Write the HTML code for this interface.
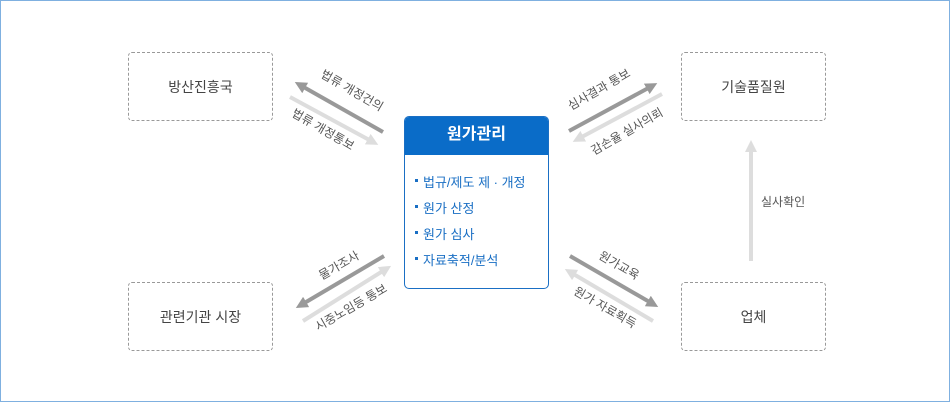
<!DOCTYPE html>
<html><head><meta charset="utf-8"><style>
body{margin:0;background:#fff}
.wrap{position:relative;width:950px;height:402px;box-sizing:border-box;border:1px solid #7fb0e0;font-family:"Liberation Sans","Noto Sans CJK KR",sans-serif;overflow:hidden}
.box{position:absolute;width:145px;height:69px;box-sizing:border-box;border:1px dashed #999;border-radius:4px;display:flex;align-items:center;justify-content:center;font-size:14px;color:#444}
.c{position:absolute;left:403px;top:115px;width:145px;height:173px;box-sizing:border-box;border:1px solid #1a6fc4;border-radius:5px;overflow:hidden}
.c .h{background:#0a6cc8;color:#fff;font-weight:bold;font-size:16px;height:38px;line-height:36px;text-align:center}
.c ul{list-style:none;margin:0;padding:20px 0 0 10px}
.c li{color:#1a6fc4;font-size:13px;height:26px;line-height:16px}
.c li:before{content:"";display:inline-block;width:3px;height:3px;background:#1a6fc4;margin-right:5px;vertical-align:middle;position:relative;top:-3px}
svg{position:absolute;left:0;top:0}
svg text{font-family:"Liberation Sans","Noto Sans CJK KR",sans-serif;font-size:12px;fill:#555}
</style></head><body><div class="wrap">
<div class="box" style="left:127px;top:51px">방산진흥국</div>
<div class="box" style="left:680px;top:51px">기술품질원</div>
<div class="box" style="left:127px;top:281px">관련기관 시장</div>
<div class="box" style="left:680px;top:281px">업체</div>
<div class="c"><div class="h">원가관리</div><ul><li>법규/제도 제 · 개정</li><li>원가 산정</li><li>원가 심사</li><li>자료축적/분석</li></ul></div>
<svg width="950" height="402">
<defs>
<marker id="d" markerWidth="3" markerHeight="3" refX="1.5" refY="1.5" orient="auto"><path d="M0,0L3,1.5L0,3z" fill="#999"/></marker>
<marker id="l" markerWidth="3" markerHeight="3" refX="1.5" refY="1.5" orient="auto"><path d="M0,0L3,1.5L0,3z" fill="#ddd"/></marker>
</defs>
<g stroke-width="4">
<line x1="382" y1="131" x2="299" y2="84" stroke="#999" marker-end="url(#d)"/>
<line x1="289" y1="96" x2="372" y2="141" stroke="#ddd" marker-end="url(#l)"/>
<line x1="568" y1="130" x2="651" y2="85" stroke="#999" marker-end="url(#d)"/>
<line x1="661" y1="93" x2="577" y2="138" stroke="#ddd" marker-end="url(#l)"/>
<line x1="383" y1="255" x2="300" y2="304" stroke="#999" marker-end="url(#d)"/>
<line x1="302" y1="320" x2="385" y2="268" stroke="#ddd" marker-end="url(#l)"/>
<line x1="569" y1="255" x2="652" y2="303" stroke="#999" marker-end="url(#d)"/>
<line x1="652" y1="320" x2="569" y2="271" stroke="#ddd" marker-end="url(#l)"/>
<line x1="750" y1="260" x2="750" y2="145" stroke="#ddd" marker-end="url(#l)"/>
</g>
<text transform="translate(349,93) rotate(30)" text-anchor="middle">법류 개정건의</text>
<text transform="translate(320,132) rotate(30)" text-anchor="middle">법류 개정통보</text>
<text transform="translate(600,92) rotate(-30)" text-anchor="middle">심사결과 통보</text>
<text transform="translate(628,134) rotate(-30)" text-anchor="middle">감손율 실사의뢰</text>
<text transform="translate(340,268) rotate(-30)" text-anchor="middle">물가조사</text>
<text transform="translate(352,310) rotate(-30)" text-anchor="middle">시중노임등 통보</text>
<text transform="translate(616,268) rotate(30)" text-anchor="middle">원가교육</text>
<text transform="translate(602,310) rotate(30)" text-anchor="middle">원가 자료획득</text>
<text x="760" y="205">실사확인</text>
</svg>
</div></body></html>
